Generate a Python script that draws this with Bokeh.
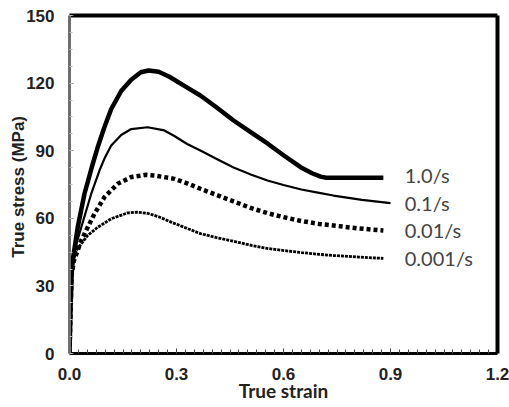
from bokeh.plotting import figure
from bokeh.models import Range1d, LinearAxis, FixedTicker, Label, CustomJSTickFormatter
from bokeh.embed import file_html
from bokeh.resources import INLINE

# Data
strain_10 = [0, 0.003, 0.006, 0.009, 0.023, 0.042, 0.065, 0.079, 0.098, 0.117, 0.145, 0.173, 0.2, 0.222, 0.25, 0.28,
             0.33, 0.367, 0.41, 0.46, 0.51, 0.555, 0.60, 0.648, 0.68, 0.704, 0.72, 0.88]
stress_10 = [0, 20, 35, 41.3, 56, 70.9, 84, 91.5, 100.5, 108.5, 116.5, 121.5, 124.8, 125.6, 125, 122.8,
             118, 114.5, 109.5, 103.4, 98, 93.2, 88, 82.7, 80, 78.5, 78, 78]

strain_01 = [0, 0.003, 0.006, 0.014, 0.033, 0.061, 0.084, 0.098, 0.117, 0.145, 0.173, 0.219, 0.266, 0.294,
             0.33, 0.367, 0.41, 0.46, 0.51, 0.555, 0.60, 0.65, 0.70, 0.74, 0.82, 0.9]
stress_01 = [0, 20, 35, 45.7, 56, 70.9, 81.2, 86.5, 92.3, 97, 99.6, 100.4, 99, 96.5,
             93, 90.1, 86.5, 82.5, 79.3, 76.8, 74.8, 72.8, 71.3, 70.1, 68.2, 66.7]

strain_001 = [0, 0.003, 0.006, 0.012, 0.033, 0.051, 0.07, 0.098, 0.135, 0.173, 0.215, 0.238, 0.294,
              0.33, 0.367, 0.41, 0.46, 0.51, 0.555, 0.60, 0.65, 0.70, 0.74, 0.81, 0.88]
stress_001 = [0, 20, 35, 41, 50.2, 56, 62, 69.4, 75.3, 78.3, 79.3, 79, 77.5,
              75.5, 73.1, 70.5, 67.5, 64.5, 62.3, 60.5, 58.8, 57.5, 56.8, 55.5, 54.6]

strain_0001 = [0, 0.003, 0.006, 0.010, 0.019, 0.033, 0.051, 0.079, 0.117, 0.163, 0.19, 0.219, 0.25, 0.285,
               0.33, 0.367, 0.41, 0.46, 0.51, 0.555, 0.60, 0.65, 0.70, 0.74, 0.81, 0.88]
stress_0001 = [0, 20, 35, 41, 45.7, 48.7, 52.4, 56, 59.8, 62.4, 62.7, 62.2, 60.7, 58.3,
               55.5, 53.2, 51.5, 49.8, 48, 46.6, 45.7, 44.8, 44, 43.5, 42.8, 42.2]

rate_labels = ["1.0/s", "0.1/s", "0.01/s", "0.001/s"]
label_y = [79, 67, 54.6, 42.2]
label_x = 0.94

x_ticks = [0, 0.3, 0.6, 0.9, 1.2]
y_ticks = [0, 30, 60, 90, 120, 150]

p = figure(width=509, height=407, output_backend="svg", toolbar_location=None,
           x_range=Range1d(0, 1.2), y_range=Range1d(0, 150),
           min_border_left=69, min_border_right=12, min_border_top=15, min_border_bottom=54,
           background_fill_color="white", border_fill_color="white")
p.outline_line_color = None
p.grid.visible = False

# x axis
xa = p.xaxis[0]
xa.ticker = FixedTicker(ticks=x_ticks, minor_ticks=[i * 0.025 for i in range(49)])
xa.formatter = CustomJSTickFormatter(code="return tick.toFixed(1);")
xa.axis_line_color = "black"
xa.axis_line_width = 3
xa.major_tick_in = 5
xa.major_tick_out = 0
xa.minor_tick_in = 4
xa.minor_tick_out = 0
xa.major_tick_line_color = "#333"
xa.minor_tick_line_color = "#444"
xa.major_label_text_font = "Liberation Sans"
xa.major_label_text_font_style = "bold"
xa.major_label_text_font_size = "17px"
xa.major_label_text_color = "#222"
xa.major_label_standoff = 14
xa.axis_label = "True strain"
xa.axis_label_text_font = "Lato"
xa.axis_label_text_font_style = "bold"
xa.axis_label_text_font_size = "19px"
xa.axis_label_text_color = "#222"
xa.axis_label_standoff = -4

# y axis
ya = p.yaxis[0]
ya.ticker = FixedTicker(ticks=y_ticks, minor_ticks=[i * 7.5 for i in range(21)])
ya.axis_line_color = "#6e6e6e"
ya.axis_line_width = 3
ya.major_tick_in = 4
ya.major_tick_out = 0
ya.minor_tick_in = 3
ya.minor_tick_out = 0
ya.major_tick_line_color = "#777"
ya.minor_tick_line_color = "#bbb"
ya.major_label_text_font = "Liberation Sans"
ya.major_label_text_font_style = "bold"
ya.major_label_text_font_size = "17px"
ya.major_label_text_color = "#222"
ya.major_label_standoff = 15
ya.axis_label = "True stress  (MPa)"
ya.axis_label_text_font = "Liberation Sans"
ya.axis_label_text_font_style = "bold"
ya.axis_label_text_font_size = "17px"
ya.axis_label_text_color = "#222"
ya.axis_label_standoff = -5

# frame top and right
for loc in ["above", "right"]:
    ax = LinearAxis(major_tick_in=0, major_tick_out=0, minor_tick_in=0, minor_tick_out=0,
                    major_label_text_font_size="0px", axis_line_color="black", axis_line_width=4)
    ax.ticker = FixedTicker(ticks=[])
    p.add_layout(ax, loc)

# curves
p.line(strain_10, stress_10, line_color="black", line_width=4.5, line_join="round")
p.line(strain_01, stress_01, line_color="black", line_width=2.2, line_join="round")
p.line(strain_001, stress_001, line_color="black", line_width=4.5, line_dash="4 3")
p.line(strain_0001, stress_0001, line_color="black", line_width=2.8, line_dash="3 1")

for t, yy in zip(rate_labels, label_y):
    p.add_layout(Label(x=label_x, y=yy, text=t, text_font="Lato", text_font_size="20px",
                       text_color="#444", text_baseline="middle", text_align="left"))

open("out.html", "w").write(file_html(p, INLINE))
